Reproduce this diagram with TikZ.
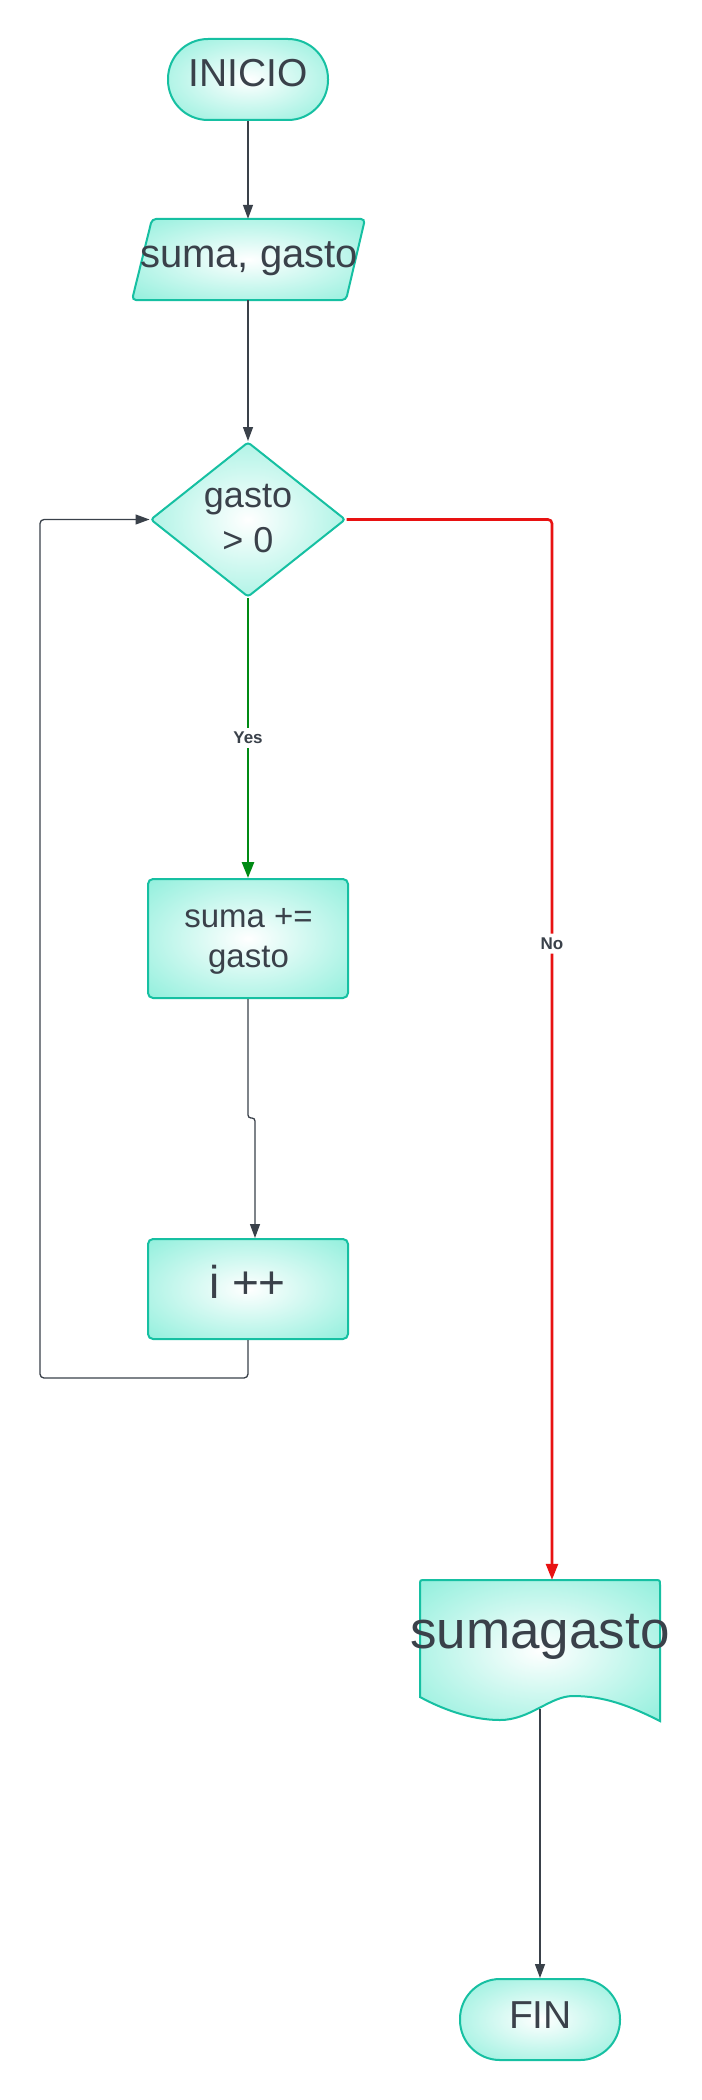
\documentclass[tikz,border=0pt]{standalone}
\usepackage{fontspec}
\setmainfont{Liberation Sans}
\usetikzlibrary{shapes.geometric,arrows.meta,calc}
\definecolor{aq}{RGB}{150,240,222}
\definecolor{bord}{RGB}{22,192,162}
\definecolor{txtc}{RGB}{58,65,74}
\definecolor{ygreen}{RGB}{0,138,20}
\definecolor{nred}{RGB}{232,18,18}
\pgfdeclareradialshading{lucid}{\pgfpoint{0bp}{0bp}}{color(0bp)=(white); color(34bp)=(aq); color(50bp)=(aq)}
\begin{document}
\begin{tikzpicture}[x=1pt,y=-1pt,
  fillshape/.style={draw=bord, line width=2pt, shade, shading=lucid},
  stadium/.style={fillshape, rectangle, rounded corners=40pt, minimum width=160pt, minimum height=81pt, inner sep=0pt},
  procbox/.style={fillshape, rectangle, rounded corners=5pt, inner sep=0pt},
  ghost/.style={rectangle, inner sep=0pt},
  txt/.style={text=txtc, inner sep=0pt, anchor=base},
  conn/.style={draw=txtc, line width=1.3pt, -{Triangle[length=14pt,width=10pt]}},
  yesline/.style={draw=ygreen, line width=2.6pt, -{Triangle[length=16pt,width=12pt]}},
  noline/.style={draw=nred, line width=2.6pt, -{Triangle[length=16pt,width=12pt]}},
  lbl/.style={fill=white, text=txtc, font=\bfseries\fontsize{17}{20}\selectfont, inner xsep=2pt, inner ysep=4pt}
]
\fill[white] (0,0) rectangle (701,2100);
\useasboundingbox (0,0) rectangle (701,2100);

% shapes
\node[stadium] (inicio) at (248,79.5) {};
\node[ghost, minimum width=215pt, minimum height=81pt] (inp) at (248,259.5) {};
\path[fillshape, rounded corners=4pt] (152,219) -- (365,219) -- (346,300) -- (132,300) -- cycle;
\node[fillshape, diamond, minimum width=195pt, minimum height=155pt, inner sep=0pt, rounded corners=3pt] (dia) at (248,519.5) {};
\node[procbox, minimum width=200pt, minimum height=119pt] (sumaop) at (248,938.5) {};
\node[procbox, minimum width=200pt, minimum height=100pt] (ipp) at (248,1289) {};
\node[ghost, minimum width=240pt, minimum height=141pt] (doc) at (540,1650.5) {};
\path[fillshape] (660,1721)
  .. controls (630,1706) and (605,1696) .. (573,1696)
  .. controls (550,1696) and (530,1720) .. (500,1720)
  .. controls (470,1720) and (440,1708) .. (420,1697)
  -- (420,1585) .. controls (420,1580) .. (425,1580)
  -- (655,1580) .. controls (660,1580) .. (660,1585) -- cycle;
\node[stadium] (fin) at (540,2019.5) {};

% texts
\node[txt, font=\fontsize{39}{47}\selectfont] at (248,87) {INICIO};
\node[txt, font=\fontsize{40}{48}\selectfont] at (249,267) {suma, gasto};
\node[txt, font=\fontsize{36}{44}\selectfont] at (248,507) {gasto};
\node[txt, font=\fontsize{36}{44}\selectfont] at (248,552) {> 0};
\node[txt, font=\fontsize{33}{40}\selectfont] at (248.5,927) {suma +=};
\node[txt, font=\fontsize{33}{40}\selectfont] at (248.5,967) {gasto};
\node[txt, font=\fontsize{46}{55}\selectfont] at (247.5,1298) {i ++};
\node[txt, font=\fontsize{53}{63}\selectfont] at (540,1648) {sumagasto};
\node[txt, font=\fontsize{39}{47}\selectfont] at (540.5,2028) {FIN};

% connectors
\draw[conn] (inicio.south) -- (inp.north);
\draw[conn] (inp.south) -- (dia.north);
\draw[yesline] (dia.south) -- node[lbl]{Yes} (sumaop.north);
\draw[noline, rounded corners=4pt] (dia.east) -| node[lbl, pos=0.7]{No} ([xshift=12pt]doc.north);
\draw[conn, rounded corners=3pt] (sumaop.south) -- ([yshift=-119pt]sumaop.south) -| ([xshift=7pt]ipp.north);
\coordinate (loopc) at (40,1378);
\draw[conn, rounded corners=4pt] (ipp.south) |- (loopc) |- (dia.west);
\draw[conn] ([yshift=12pt]doc.south) -- (fin.north);
\end{tikzpicture}
\end{document}
